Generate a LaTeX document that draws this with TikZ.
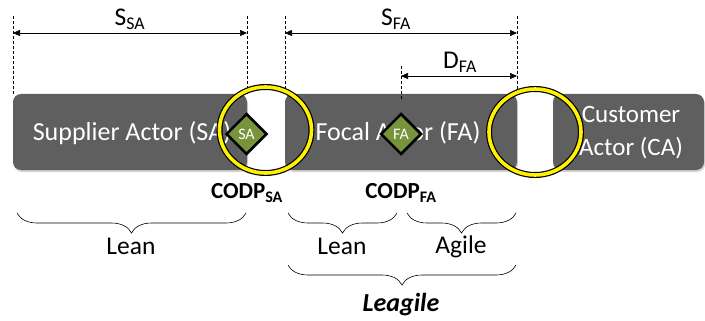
\documentclass[tikz,border=0pt]{standalone}
\usepackage{fontspec}
\setmainfont{Carlito}
\usetikzlibrary{shapes.geometric,decorations.pathreplacing,shadows,arrows.meta}

\definecolor{actorgray}{HTML}{5F5F5F}
\definecolor{codpgreen}{HTML}{77933C}

\tikzset{
  actor/.style={draw=none,fill=actorgray,rounded corners=8pt,minimum height=76pt,
    drop shadow={opacity=0.35,shadow xshift=1pt,shadow yshift=-2pt}},
  actortxt/.style={text=white,align=center,inner sep=0pt},
  codp/.style={diamond,draw=black,line width=2.5pt,fill=codpgreen,text=white,
    minimum size=41pt,inner sep=0pt,font=\fontsize{16}{16}\selectfont},
  ring/.style={draw=black,line width=6pt},
  ringin/.style={draw=yellow,line width=3.6pt},
  dimline/.style={{Triangle[length=7pt,width=6pt]}-{Triangle[length=7pt,width=6pt]},line width=0.6pt},
  extline/.style={line width=0.5pt,dash pattern=on 3pt off 2pt},
  lbl/.style={font=\fontsize{25.5}{25.5}\selectfont,inner sep=0pt},
  codplbl/.style={font=\bfseries\fontsize{23}{23}\selectfont,inner sep=0pt},
  br/.style={decorate,decoration={brace,mirror,amplitude=20pt},line width=0.6pt}
}

\begin{document}
\begin{tikzpicture}[x=1pt,y=-1pt]
\useasboundingbox (0,0) rectangle (705,321);

% actors
\node[actor,minimum width=234pt] (sa) at (130,132) {};
\node[actor,minimum width=232pt] (fa) at (401,132) {};
\node[actor,minimum width=151pt] (ca) at (628.5,132) {};
\node[actortxt,font=\fontsize{26}{26}\selectfont] (satxt) at (132,133) {Supplier Actor (SA)};
\node[actortxt,font=\fontsize{26}{26}\selectfont] (fatxt) at (398,133) {Focal Actor (FA)};
\node[actortxt,font=\fontsize{25}{33}\selectfont] (catxt) at (631,133) {Customer\\Actor (CA)};

% extension lines
\foreach \a in {sa.north west,sa.north east,fa.north west,fa.north east}
    \draw[extline] (\a) -- ++(0,-78);
\coordinate (dfa-top) at (401,66);
\coordinate (dfa-bot) at (401,100);
\draw[extline] (dfa-top) -- (dfa-bot);

% dimensions
\coordinate (ssa-l) at (13,33);
\coordinate (ssa-r) at (247,33);
\coordinate (sfa-l) at (285,33);
\coordinate (sfa-r) at (517,33);
\coordinate (dfa-l) at (401,76);
\coordinate (dfa-r) at (517,76);
\draw[dimline] (ssa-l) -- (ssa-r);
\draw[dimline] (sfa-l) -- (sfa-r);
\draw[dimline] (dfa-l) -- (dfa-r);
\node[lbl] (ssa) at (130,19) {S\textsubscript{SA}};
\node[lbl] (sfa) at (396,19) {S\textsubscript{FA}};
\node[lbl] (dfa) at (460,62) {D\textsubscript{FA}};

% decoupling points
\foreach \c in {(265.5,130),(535,132)}{
    \draw[ring] \c ellipse (46pt and 43pt);
    \draw[ringin] \c ellipse (46pt and 43pt);
}
\node[codp] (codpsa) at (246.5,134) {SA};
\node[codp] (codpfa) at (401,134) {FA};
\node[codplbl] (codpsalbl) at (247,193) {CODP\textsubscript{SA}};
\node[codplbl] (codpfalbl) at (401,193) {CODP\textsubscript{FA}};

% strategies
\draw[br] (17,213) -- (246,213);
\draw[br] (288,213) -- (397,213);
\draw[br] (407,213) -- (516,213);
\draw[br] (288,265) -- (516,265);
\node[lbl] (lean1) at (131,246) {Lean};
\node[lbl] (lean2) at (342,246) {Lean};
\node[lbl] (agile) at (461,247) {Agile};
\node[lbl,font=\bfseries\itshape\fontsize{26}{26}\selectfont] (leagile) at (401,305) {Leagile};

\end{tikzpicture}
\end{document}
